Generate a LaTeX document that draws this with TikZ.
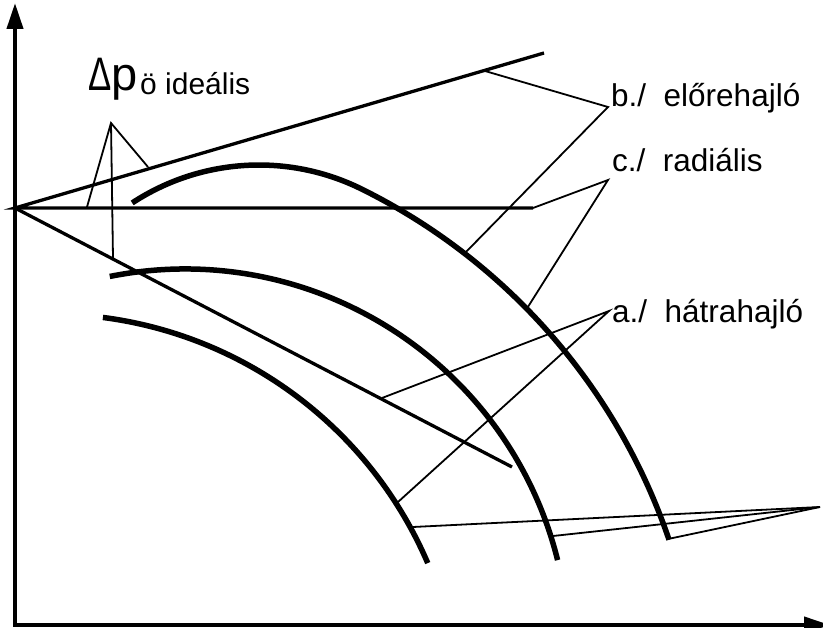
\documentclass[tikz,border=0pt]{standalone}
\usepackage{fontspec}
\setmainfont{Liberation Sans}
\usetikzlibrary{arrows.meta}
\begin{document}
\begin{tikzpicture}[x=1pt,y=-1pt,
  axis/.style={line width=4pt,line cap=rect},
  axtip/.style={-{Triangle[width=16pt,length=26pt]}},
  charline/.style={line width=3.3pt},
  curve/.style={line width=5.5pt},
  leader/.style={line width=1.8pt},
  lbl/.style={anchor=base west,inner sep=0pt,font=\fontsize{31.5}{36}\selectfont}]
\useasboundingbox (0,0) rectangle (823,628);
% axes
\coordinate (ytip) at (15,3);
\coordinate (corner) at (15,625);
\coordinate (xtip) at (830,625);
\draw[axis,axtip] (corner) -- (ytip);
\draw[axis,axtip] (corner) -- (xtip);
% ideal characteristic lines
\coordinate (O) at (15,208);
\coordinate (bend) at (544,53);
\coordinate (cend) at (533,208);
\coordinate (aend) at (512,467);
\draw[charline] (bend) -- (O) -- (cend);
\draw[charline] (O) -- (aend);
% real curves (circular arcs)
\coordinate (cb1) at (259,396);
\coordinate (cc) at (185,653);
\coordinate (ca) at (50,725);
\draw[curve] (cb1) ++(-123.3:231) arc[start angle=-123.3,end angle=-63.7,radius=231]
  arc[start angle=-63.7,end angle=-18.8,radius=611];
\draw[curve] (cc) ++(-101.3:384) arc[start angle=-101.3,end angle=-14.0,radius=384];
\draw[curve] (ca) ++(-82.6:411) arc[start angle=-82.6,end angle=-23.2,radius=411];
% labels
\node[anchor=base west,inner sep=0pt,font=\fontsize{47}{52}\selectfont] (dp) at (88,91) {\scalebox{0.74}[1]{Δ}p};
\node[anchor=base west,inner sep=0pt,font=\fontsize{30}{36}\selectfont] (dps) at (140,95) {ö ideális};
\node[lbl] (lb) at (611,107) {b./~~előrehajló};
\node[lbl] (lc) at (612,171.5) {c./~~radiális};
\node[lbl] (la) at (612,322.7) {a./~~hátrahajló};
% leader points
\coordinate (dpA) at (111,123);
\coordinate (dpL) at (87,207);
\coordinate (dpR) at (148,167);
\coordinate (dpD) at (113,258);
\coordinate (Pb) at (608,107);
\coordinate (Pb1) at (485,71);
\coordinate (Pb2) at (465,253);
\coordinate (Pc) at (608,180);
\coordinate (Pc2) at (526,310);
\coordinate (Pa) at (609,311);
\coordinate (Pa1) at (382,398);
\coordinate (Pa2) at (398,502);
\coordinate (Q) at (820,507);
\coordinate (Q1) at (413,527);
\coordinate (Q2) at (553,536);
\coordinate (Q3) at (668,539);
% leaders
\draw[leader] (dpL) -- (dpA) -- (dpR);
\draw[leader] (dpA) -- (dpD);
\draw[leader] (Pb1) -- (Pb) -- (Pb2);
\draw[leader] (cend) -- (Pc) -- (Pc2);
\draw[leader] (Pa1) -- (Pa) -- (Pa2);
\draw[leader] (Q1) -- (Q) -- (Q3);
\draw[leader] (Q) -- (Q2);
\end{tikzpicture}
\end{document}
